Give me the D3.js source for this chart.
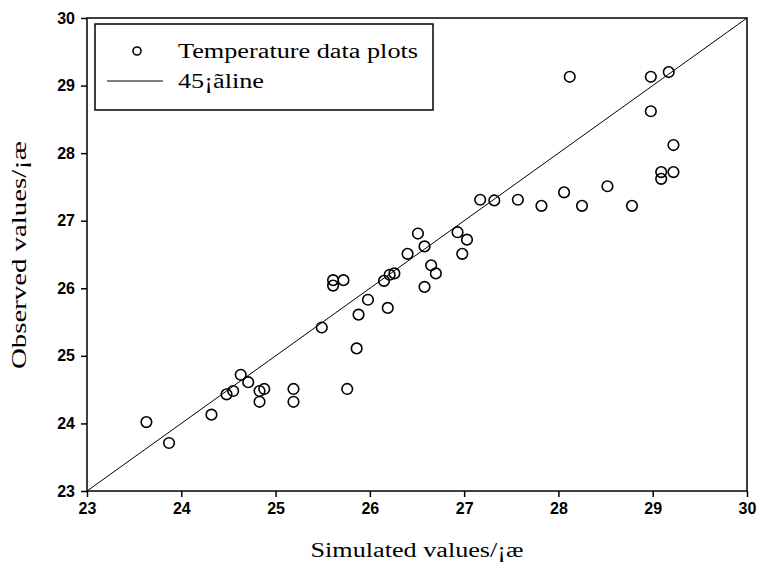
<!DOCTYPE html>
<html>
<head>
<meta charset="utf-8">
<script src="https://cdn.jsdelivr.net/npm/d3@7"></script>
<style>
  body { margin: 0; background: #fff; }
  svg { display: block; }
</style>
</head>
<body>
<div id="chart"></div>
<script>
// simulated vs observed temperature
const simulated = [23.63, 23.87, 24.32, 24.48, 24.55, 24.63, 24.71, 24.83, 24.88, 24.83,
                   25.19, 25.19, 25.49, 25.61, 25.61, 25.72, 25.76, 25.86, 25.88, 25.98,
                   26.15, 26.19, 26.21, 26.26, 26.40, 26.51, 26.58, 26.58, 26.65, 26.70,
                   26.93, 27.03, 26.98, 27.17, 27.32, 27.57, 27.82, 28.06, 28.25, 28.52,
                   28.78, 29.09, 29.09, 29.22, 29.22, 28.98, 28.98, 29.17, 28.12];
const observed  = [24.02, 23.71, 24.13, 24.43, 24.48, 24.72, 24.61, 24.48, 24.51, 24.32,
                   24.51, 24.32, 25.42, 26.12, 26.04, 26.12, 24.51, 25.11, 25.61, 25.83,
                   26.11, 25.71, 26.20, 26.22, 26.51, 26.81, 26.62, 26.02, 26.34, 26.22,
                   26.83, 26.72, 26.51, 27.31, 27.30, 27.31, 27.22, 27.42, 27.22, 27.51,
                   27.22, 27.72, 27.62, 27.72, 28.12, 28.62, 29.13, 29.20, 29.13];
const ticks = [23, 24, 25, 26, 27, 28, 29, 30];
const refLine = [23, 30];
const legendLabels = ["Temperature data plots", "45\u00a1\u00e3line"];
const xTitle = "Simulated values/\u00a1\u00e6";
const yTitle = "Observed values/\u00a1\u00e6";

const W = 760, H = 571;
const margin = { top: 18, right: 13, bottom: 80, left: 87 };
const width = W - margin.left - margin.right,
      height = H - margin.top - margin.bottom;

const svg = d3.select("#chart").append("svg")
    .attr("width", W)
    .attr("height", H);

const g = svg.append("g")
    .attr("transform", `translate(${margin.left},${margin.top})`);

const x = d3.scaleLinear().domain([23, 30]).range([0, width]);
const y = d3.scaleLinear().domain([23, 30]).range([height, 0]);

// axes
const xAxis = g.append("g")
    .attr("transform", `translate(0,${height})`)
    .call(d3.axisBottom(x).tickValues(ticks).tickFormat(d3.format("d")).tickSize(6).tickPadding(6));
const yAxis = g.append("g")
    .call(d3.axisLeft(y).tickValues(ticks).tickFormat(d3.format("d")).tickSize(6).tickPadding(6));

[xAxis, yAxis].forEach(a => {
    a.select(".domain").remove();
    a.selectAll("line").attr("stroke", "#000").attr("stroke-width", 1.5);
    a.selectAll("text")
     .attr("fill", "#000")
     .style("font-family", "'Liberation Sans Narrow', 'Liberation Sans', Arial, sans-serif")
     .style("font-size", "16px")
     .style("font-weight", "600");
});

// frame
g.append("rect")
    .attr("width", width)
    .attr("height", height)
    .attr("fill", "none")
    .attr("stroke", "#000")
    .attr("stroke-width", 1.5);

// 1:1 line
g.append("line")
    .attr("x1", x(refLine[0])).attr("y1", y(refLine[0]))
    .attr("x2", x(refLine[1])).attr("y2", y(refLine[1]))
    .attr("stroke", "#000")
    .attr("stroke-width", 1);

// points
g.selectAll("circle.pt")
    .data(simulated.map((s, i) => ({ s, o: observed[i] })))
    .join("circle")
    .attr("class", "pt")
    .attr("cx", d => x(d.s))
    .attr("cy", d => y(d.o))
    .attr("r", 5.3)
    .attr("fill", "none")
    .attr("stroke", "#000")
    .attr("stroke-width", 1.6);

// axis titles
svg.append("text")
    .attr("x", margin.left + width / 2)
    .attr("y", 557)
    .attr("text-anchor", "middle")
    .attr("textLength", 213)
    .attr("lengthAdjust", "spacingAndGlyphs")
    .style("font-family", "'Liberation Serif', 'Times New Roman', serif")
    .style("font-size", "20px")
    .text(xTitle);

svg.append("text")
    .attr("transform", `translate(26,${255}) rotate(-90)`)
    .attr("text-anchor", "middle")
    .attr("textLength", 228)
    .attr("lengthAdjust", "spacingAndGlyphs")
    .style("font-family", "'Liberation Serif', 'Times New Roman', serif")
    .style("font-size", "20px")
    .text(yTitle);

// legend
const legend = svg.append("g");
legend.append("rect")
    .attr("x", 95).attr("y", 24)
    .attr("width", 338).attr("height", 86)
    .attr("fill", "#fff")
    .attr("stroke", "#000")
    .attr("stroke-width", 1.5);
legend.append("circle")
    .attr("cx", 137).attr("cy", 51)
    .attr("r", 4)
    .attr("fill", "none")
    .attr("stroke", "#000")
    .attr("stroke-width", 1.6);
legend.append("line")
    .attr("x1", 107).attr("x2", 163)
    .attr("y1", 81).attr("y2", 81)
    .attr("stroke", "#000")
    .attr("stroke-width", 1.2);
legend.selectAll("text")
    .data(legendLabels)
    .join("text")
    .attr("x", 178)
    .attr("y", (d, i) => 58 + i * 30)
    .attr("textLength", (d, i) => i === 0 ? 240 : 86)
    .attr("lengthAdjust", "spacingAndGlyphs")
    .style("font-family", "'Liberation Serif', 'Times New Roman', serif")
    .style("font-size", "20px")
    .text(d => d);
</script>
</body>
</html>
